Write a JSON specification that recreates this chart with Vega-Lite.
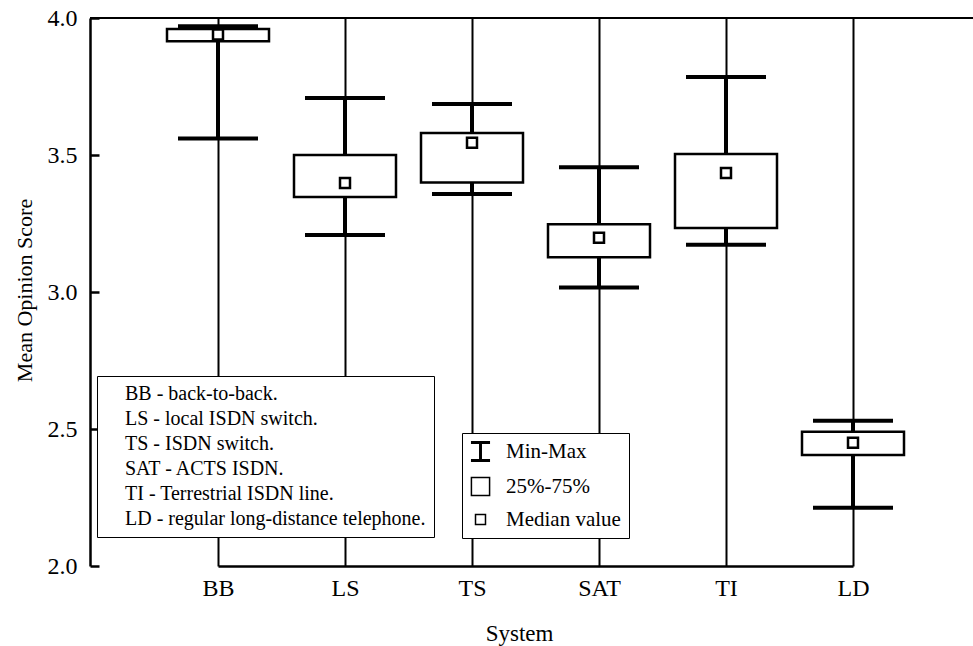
{
  "$schema": "https://vega.github.io/schema/vega-lite/v6.json",
  "autosize": {"type": "none"},
  "padding": {"left": 90, "top": 18, "right": 0, "bottom": 80},
  "width": 883,
  "height": 548,
  "background": "white",
  "config": {
    "view": {"stroke": null},
    "font": "Liberation Serif",
    "axis": {"labelFont": "Liberation Serif", "titleFont": "Liberation Serif", "labelColor": "black", "titleColor": "black", "titleFontWeight": "normal"}
  },
  "data": {
    "values": [
      {"system": "BB", "min": 3.56, "q1": 3.915, "median": 3.94, "q3": 3.96, "max": 3.97, "desc": "BB - back-to-back."},
      {"system": "LS", "min": 3.208, "q1": 3.347, "median": 3.398, "q3": 3.5, "max": 3.708, "desc": "LS - local ISDN switch."},
      {"system": "TS", "min": 3.358, "q1": 3.4, "median": 3.545, "q3": 3.58, "max": 3.686, "desc": "TS - ISDN switch."},
      {"system": "SAT", "min": 3.016, "q1": 3.127, "median": 3.198, "q3": 3.247, "max": 3.455, "desc": "SAT - ACTS ISDN."},
      {"system": "TI", "min": 3.172, "q1": 3.234, "median": 3.434, "q3": 3.504, "max": 3.785, "desc": "TI - Terrestrial ISDN line."},
      {"system": "LD", "min": 2.213, "q1": 2.405, "median": 2.45, "q3": 2.49, "max": 2.53, "desc": "LD - regular long-distance telephone."}
    ]
  },
  "layer": [
    {
      "mark": {"type": "rule", "color": "black", "strokeWidth": 4},
      "encoding": {
        "x": {
          "field": "system", "type": "nominal",
          "scale": {"type": "point", "domain": ["BB", "LS", "TS", "SAT", "TI", "LD"], "range": [128, 763], "padding": 0},
          "axis": {
            "title": "System", "titleFontSize": 23, "titleX": 429, "titleY": 74, "titleAlign": "center", "titleBaseline": "alphabetic",
            "labelFontSize": 24, "labelAngle": 0, "labelPadding": 10, "ticks": false,
            "domain": true, "domainColor": "black", "domainWidth": 2.5,
            "grid": true, "gridColor": "black", "gridWidth": 2, "gridOpacity": 1
          }
        },
        "y": {
          "field": "min", "type": "quantitative",
          "scale": {"domain": [2, 4], "nice": false, "zero": false},
          "axis": {
            "title": "Mean Opinion Score", "titleFontSize": 22, "titleX": -66, "titleY": 272, "titleAngle": -90, "titleAlign": "center", "titleBaseline": "middle",
            "values": [2.0, 2.5, 3.0, 3.5, 4.0],
            "format": ".1f",
            "labelOverlap": false,
            "labelFontSize": 24, "labelPadding": 22,
            "tickColor": "black", "tickSize": -9, "tickWidth": 2.5,
            "domain": true, "domainColor": "black", "domainWidth": 2.5, "grid": false
          }
        },
        "y2": {"field": "max"}
      }
    },
    {
      "mark": {"type": "rule", "color": "black", "strokeWidth": 2},
      "encoding": {"y": {"datum": 4, "type": "quantitative"}}
    },
    {
      "mark": {"type": "bar", "size": 102, "fill": "white", "stroke": "black", "strokeWidth": 2.5},
      "encoding": {"x": {"field": "system", "type": "nominal"}, "y": {"field": "q1", "type": "quantitative"}, "y2": {"field": "q3"}}
    },
    {
      "mark": {"type": "tick", "orient": "horizontal", "size": 80, "thickness": 4, "color": "black", "opacity": 1},
      "encoding": {"x": {"field": "system", "type": "nominal"}, "y": {"field": "min", "type": "quantitative"}}
    },
    {
      "mark": {"type": "tick", "orient": "horizontal", "size": 80, "thickness": 4, "color": "black", "opacity": 1},
      "encoding": {"x": {"field": "system", "type": "nominal"}, "y": {"field": "max", "type": "quantitative"}}
    },
    {
      "mark": {"type": "point", "filled": true, "color": "white", "fill": "white", "stroke": "black", "strokeWidth": 2.5, "size": 330, "opacity": 1},
      "encoding": {
        "x": {"field": "system", "type": "nominal"},
        "y": {"field": "median", "type": "quantitative"},
        "shape": {
          "datum": "Median value", "type": "nominal",
          "scale": {"domain": ["Min-Max", "25%-75%", "Median value"], "range": ["M-1.05,-1.08H1.05M-1.05,-0.92H1.05M-0.08,-1V1M0.08,-1V1M-1.05,1.08H1.05M-1.05,0.92H1.05", "M-1,-1H1V1H-1Z", "M-0.55,-0.55H0.55V0.55H-0.55Z"]},
          "legend": {
            "orient": "none", "legendX": 372, "legendY": 415, "title": null,
            "symbolSize": 330,
            "labelFont": "Liberation Serif", "labelFontSize": 21, "labelColor": "black", "labelLimit": 0, "labelOffset": 15,
            "rowPadding": 9, "padding": 8,
            "strokeColor": "black", "fillColor": "white"
          }
        }
      }
    },
    {
      "mark": {"type": "point", "filled": false, "size": 0, "opacity": 0},
      "encoding": {
        "x": {"field": "system", "type": "nominal"},
        "y": {"field": "median", "type": "quantitative"},
        "stroke": {
          "field": "desc", "type": "nominal",
          "scale": {"domain": ["BB - back-to-back.", "LS - local ISDN switch.", "TS - ISDN switch.", "SAT - ACTS ISDN.", "TI - Terrestrial ISDN line.", "LD - regular long-distance telephone."], "range": ["black", "black", "black", "black", "black", "black"]},
          "legend": {
            "orient": "none", "legendX": 7, "legendY": 358, "title": null,
            "symbolSize": 0, "symbolStrokeWidth": 0, "symbolOpacity": 0,
            "labelFont": "Liberation Serif", "labelFontSize": 20, "labelColor": "black", "labelLimit": 0, "labelOffset": 0,
            "rowPadding": 5, "padding": 8,
            "strokeColor": "black", "fillColor": "white"
          }
        }
      }
    }
  ]
}
